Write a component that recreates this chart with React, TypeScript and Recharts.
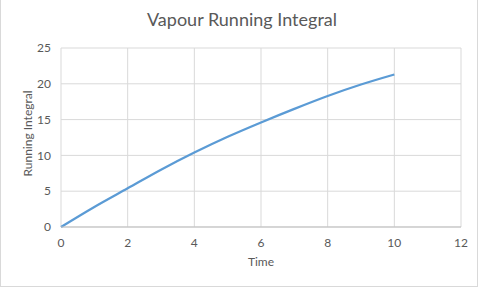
import { LineChart, Line, XAxis, YAxis, CartesianGrid, Label } from "recharts";

// Time (x) and running integral (y)
const times = [0, 1, 2, 3, 4, 5, 6, 7, 8, 9, 10];
const integral = [0, 2.8, 5.4, 8.0, 10.4, 12.6, 14.6, 16.5, 18.3, 19.9, 21.3];
const xTicks = [0, 2, 4, 6, 8, 10, 12];
const yTicks = [0, 5, 10, 15, 20, 25];

const title = "Vapour Running Integral";
const xLabel = "Time";
const yLabel = "Running Integral";

const FONT = "Lato, 'Open Sans', sans-serif";
const TEXT = "#595959";

export default function App() {
  const data = times.map((t, i) => ({ t, v: integral[i] }));

  return (
    <div
      style={{
        position: "absolute",
        left: 0,
        top: 0,
        width: 478,
        height: 287,
        border: "1px solid #d9d9d9",
        borderTop: "none",
        background: "#fff",
        fontFamily: FONT,
        boxSizing: "border-box",
      }}
    >
      <div
        style={{
          position: "absolute",
          top: 8,
          left: 0,
          width: 482,
          textAlign: "center",
          fontSize: 18,
          color: TEXT,
        }}
      >
        {title}
      </div>
      <LineChart
        width={482}
        height={288}
        data={data}
        margin={{ top: 48, right: 21, bottom: 0, left: 0 }}
        style={{ position: "absolute", left: -1, top: 0 }}
      >
        <CartesianGrid stroke="#d9d9d9" strokeWidth={1} />
        <XAxis
          dataKey="t"
          type="number"
          domain={[0, 12]}
          ticks={xTicks}
          height={61}
          tickLine={false}
          axisLine={{ stroke: "#bfbfbf" }}
          tickMargin={5}
          tick={{ fill: TEXT, fontSize: 12, fontFamily: FONT }}
        >
          <Label value={xLabel} position="insideTop" offset={30} fill={TEXT} fontSize={12} fontFamily={FONT} />
        </XAxis>
        <YAxis
          type="number"
          domain={[0, 25]}
          ticks={yTicks}
          width={61}
          tickLine={false}
          axisLine={false}
          tickMargin={4}
          tick={{ fill: TEXT, fontSize: 12, fontFamily: FONT }}
        >
          <Label value={yLabel} angle={-90} position="insideLeft" offset={28} dy={-4} fill={TEXT} fontSize={12} fontFamily={FONT} style={{ textAnchor: "middle" }} />
        </YAxis>
        <Line
          type="monotone"
          dataKey="v"
          stroke="#5b9bd5"
          strokeWidth={2.25}
          dot={false}
          isAnimationActive={false}
        />
      </LineChart>
    </div>
  );
}
